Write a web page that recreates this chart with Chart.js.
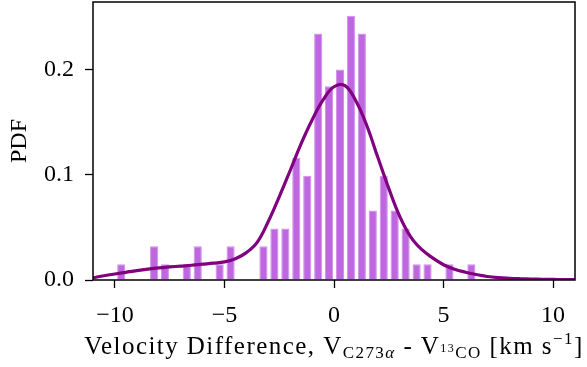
<!DOCTYPE html>
<html>
<head>
<meta charset="utf-8">
<script src="https://cdn.jsdelivr.net/npm/chart.js@4.4.1/dist/chart.umd.min.js"></script>
<style>
  html, body { margin: 0; padding: 0; background: #fff; }
  #wrap { width: 587px; height: 367px; }
</style>
</head>
<body>
<div id="wrap"><canvas id="pdfChart" width="587" height="367"></canvas></div>
<script>
// histogram: bin centres [km/s] and normalised density per bin (empty bins left out)
const binCenters = [-9.71, -8.21, -7.72, -6.72, -6.22, -5.22, -4.72, -3.22, -2.72, -2.22,
                    -1.72, -1.22, -0.72, -0.23, 0.27, 0.77, 1.27, 1.77, 2.27, 2.77,
                    3.27, 3.77, 4.27, 5.27, 6.27];
const binDensity = [0.015, 0.032, 0.015, 0.015, 0.032, 0.015, 0.032, 0.032, 0.049, 0.049,
                    0.116, 0.099, 0.234, 0.184, 0.200, 0.251, 0.234, 0.066, 0.099, 0.066,
                    0.049, 0.015, 0.015, 0.015, 0.015];

// kernel density estimate, sampled every 0.5 km/s
const kdeX = [-11, -10.5, -10, -9.5, -9, -8.5, -8, -7.5, -7, -6.5,
              -6, -5.5, -5, -4.5, -4, -3.5, -3, -2.5, -2, -1.5,
              -1, -0.5, 0, 0.5, 1, 1.5, 2, 2.5, 3, 3.5,
              4, 4.5, 5, 5.5, 6, 6.5, 7, 7.5, 8, 8.5,
              9, 9.5, 10, 10.5, 11];
const kdeY = [0.0021, 0.0040, 0.0057, 0.0073, 0.0089, 0.0103, 0.0115, 0.0124, 0.0132, 0.0140,
              0.0150, 0.0160, 0.0172, 0.0202, 0.0260, 0.0360, 0.0555, 0.0790, 0.1040, 0.1295,
              0.1520, 0.1710, 0.1835, 0.1845, 0.1700, 0.1465, 0.1165, 0.0870, 0.0605, 0.0410,
              0.0290, 0.0210, 0.0145, 0.0102, 0.0074, 0.0052, 0.0033, 0.0022, 0.0016, 0.0012,
              0.0009, 0.0007, 0.0005, 0.0004, 0.0003];

const xRange = [-11, 11];
const yRange = [0, 0.264];
const xStep = 5;
const yStep = 0.1;

const serif = "'Liberation Serif', 'Times New Roman', serif";

// x label with sub/superscripts, drawn piece by piece
const xTitleParts = [
  { text: 'Velocity Difference, V', size: 25, dy: 0 },
  { text: 'C273', size: 17, dy: 4 },
  { text: 'α', size: 17, dy: 4, italic: true },
  { text: ' - V', size: 25, dy: 0 },
  { text: '13', size: 12, dy: -2 },
  { text: 'CO', size: 17, dy: 4 },
  { text: ' [km s', size: 25, dy: 0 },
  { text: '\u22121', size: 17, dy: -10 },
  { text: ']', size: 25, dy: 0 }
];

const xTitle = {
  id: 'xTitle',
  afterDraw(chart) {
    const { ctx, chartArea } = chart;
    const fontOf = p => (p.italic ? 'italic ' : '') + p.size + 'px ' + serif;
    ctx.save();
    ctx.fillStyle = '#000';
    ctx.textBaseline = 'alphabetic';
    ctx.textAlign = 'left';
    ctx.letterSpacing = '1.45px';
    let total = 0;
    xTitleParts.forEach(p => {
      ctx.font = fontOf(p);
      p.w = ctx.measureText(p.text).width;
      total += p.w;
    });
    let x = (chartArea.left + chartArea.right) / 2 - total / 2;
    const baseY = chartArea.bottom + 73.5;
    xTitleParts.forEach(p => {
      ctx.font = fontOf(p);
      ctx.fillText(p.text, x, baseY + p.dy);
      x += p.w;
    });
    ctx.restore();
  }
};

// closed box around the plotting area
const frame = {
  id: 'frame',
  afterDatasetsDraw(chart) {
    const { ctx, chartArea: a } = chart;
    ctx.save();
    ctx.strokeStyle = '#000';
    ctx.lineWidth = 1.5;
    ctx.strokeRect(a.left, a.top, a.right - a.left, a.bottom - a.top);
    ctx.restore();
  }
};

const minus = v => (v < 0 ? '\u2212' + Math.abs(v) : String(v));

new Chart(document.getElementById('pdfChart'), {
  type: 'bar',
  data: {
    datasets: [
      {
        type: 'line',
        data: kdeX.map((x, i) => ({ x: x, y: kdeY[i] })),
        borderColor: '#800080',
        borderWidth: 3.2,
        pointRadius: 0,
        fill: false,
        tension: 0.4,
        order: 0
      },
      {
        type: 'bar',
        data: binCenters.map((x, i) => ({ x: x, y: binDensity[i] })),
        backgroundColor: '#be67e0',
        borderColor: '#cf8fe8',
        borderWidth: 1,
        barPercentage: 0.76,
        categoryPercentage: 1.0,
        order: 1
      }
    ]
  },
  options: {
    responsive: false,
    animation: false,
    devicePixelRatio: 1,
    layout: { padding: { top: 2, right: 12, left: 0, bottom: 0 } },
    plugins: { legend: { display: false }, tooltip: { enabled: false } },
    scales: {
      x: {
        type: 'linear',
        min: xRange[0],
        max: xRange[1],
        offset: false,
        grid: { offset: false, drawOnChartArea: false, tickLength: 8, tickWidth: 1.3, tickColor: '#000' },
        border: { display: false },
        ticks: {
          stepSize: xStep,
          includeBounds: false,
          maxRotation: 0,
          padding: 13,
          color: '#000',
          font: { family: serif, size: 24 },
          callback: v => minus(v)
        },
        afterFit: s => {
          s.height = 87;
          s.paddingLeft = 0;
          s.paddingRight = 0;
        }
      },
      y: {
        min: yRange[0],
        max: yRange[1],
        grid: { drawOnChartArea: false, tickLength: 8, tickWidth: 1.3, tickColor: '#000' },
        border: { display: false },
        ticks: {
          stepSize: yStep,
          includeBounds: false,
          padding: 11,
          color: '#000',
          font: { family: serif, size: 24 },
          callback: v => v.toFixed(1)
        },
        title: {
          display: true,
          text: 'PDF',
          color: '#000',
          font: { family: serif, size: 24 },
          padding: { top: 5, bottom: 0 }
        },
        afterFit: s => {
          s.width = 93;
          s.paddingTop = 0;
          s.paddingBottom = 0;
        }
      }
    }
  },
  plugins: [frame, xTitle]
});
</script>
</body>
</html>
